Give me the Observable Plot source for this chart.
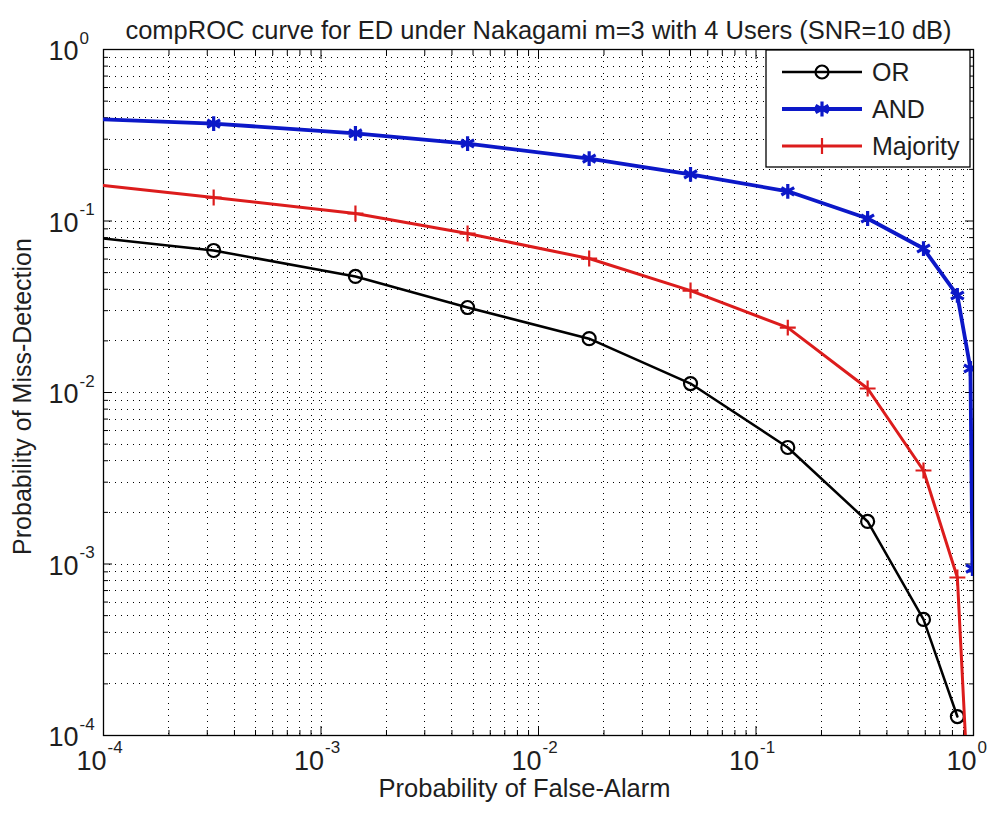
<!DOCTYPE html>
<html>
<head>
<meta charset="utf-8">
<script src="https://cdn.jsdelivr.net/npm/d3@7"></script>
<script src="https://cdn.jsdelivr.net/npm/@observablehq/plot@0.6"></script>
<style>
  body { margin: 0; background: #fff; }
  #chart { position: relative; width: 995px; height: 820px; font-family: "Liberation Sans", Arial, sans-serif; }
  #legend { position: absolute; left: 765px; top: 49px; }
</style>
</head>
<body>
<div id="chart"></div>
<script>
// Probability of false alarm (shared by all fusion rules)
const pf = [1e-4, 3.21e-4, 1.44e-3, 4.72e-3, 1.71e-2, 5.0e-2, 0.140, 0.326, 0.589, 0.843, 0.968, 0.989];

// Probability of miss-detection per fusion rule (null = not plotted)
const pmOR       = [0.0791, 0.0673, 0.0475, 0.0313, 0.0206, 0.01128, 0.00478, 0.00177, 4.75e-4, 1.29e-4, null, null];
const pmAND      = [0.391, 0.370, 0.324, 0.283, 0.231, 0.187, 0.149, 0.1034, 0.0691, 0.0368, 0.0138, 9.4e-4];
const pmMajority = [0.161, 0.137, 0.1106, 0.0845, 0.0604, 0.0393, 0.0239, 0.01055, 0.00351, 8.34e-4, 2.6e-5, null];

const seriesNames   = ["OR", "AND", "Majority"];
const seriesValues  = [pmOR, pmAND, pmMajority];
const seriesColors  = ["#000000", "#0c18c8", "#dc1c1c"];
const seriesSymbols = ["circle", "asterisk", "plus"];
const seriesWidths  = [2.5, 3.8, 3];
const seriesRadius  = [6.5, 7, 5.2];

const majorTicks = [1e-4, 1e-3, 1e-2, 1e-1, 1];
const tickExponents = ["-4", "-3", "-2", "-1", "0"];

const titleText = "compROC curve for ED under Nakagami m=3 with 4 Users (SNR=10 dB)";
const xLabel = "Probability of False-Alarm";
const yLabel = "Probability of Miss-Detection";

// log-decade minor ticks (2..9 within each decade) and full grid
const gridTicks = d3.scaleLog().domain([1e-4, 1]).ticks();
const minorTicks = gridTicks.filter(t => !majorTicks.some(m => Math.abs(m - t) / m < 1e-9));

const rows = seriesNames.map((name, s) =>
  pf.map((x, i) => ({x, y: seriesValues[s][i], series: name, i}))
    .filter(d => d.y != null));

const font = "Liberation Sans, Arial, sans-serif";
const textColor = "#1e1e1e";

const marks = [
  // dotted grid at major and minor positions
  Plot.ruleX(gridTicks, {stroke: "#000", strokeWidth: 1, strokeDasharray: "1,5", shapeRendering: "crispEdges"}),
  Plot.ruleY(gridTicks, {stroke: "#000", strokeWidth: 1, strokeDasharray: "1,5", shapeRendering: "crispEdges"}),
  // inward ticks on all four sides
  Plot.axisX({anchor: "bottom", ticks: majorTicks, tickSize: -9, tickFormat: () => "", label: null}),
  Plot.axisX({anchor: "bottom", ticks: minorTicks, tickSize: -5, tickFormat: () => "", label: null}),
  Plot.axisX({anchor: "top", ticks: majorTicks, tickSize: -9, tickFormat: () => "", label: null}),
  Plot.axisX({anchor: "top", ticks: minorTicks, tickSize: -5, tickFormat: () => "", label: null}),
  Plot.axisY({anchor: "left", ticks: majorTicks, tickSize: -9, tickFormat: () => "", label: null}),
  Plot.axisY({anchor: "left", ticks: minorTicks, tickSize: -5, tickFormat: () => "", label: null}),
  Plot.axisY({anchor: "right", ticks: majorTicks, tickSize: -9, tickFormat: () => "", label: null}),
  Plot.axisY({anchor: "right", ticks: minorTicks, tickSize: -5, tickFormat: () => "", label: null}),
  Plot.frame({stroke: "#000", strokeWidth: 1.3})
];

// curves and their markers (the first sample sits on the left edge, without a marker)
seriesNames.forEach((name, s) => {
  marks.push(Plot.line(rows[s], {x: "x", y: "y", stroke: seriesColors[s], strokeWidth: seriesWidths[s], clip: true}));
  marks.push(Plot.dot(rows[s].filter(d => d.i > 0), {
    x: "x", y: "y", symbol: () => seriesSymbols[s], r: seriesRadius[s],
    stroke: seriesColors[s], strokeWidth: s === 1 ? 3.2 : 2.2, fill: "none", clip: true
  }));
});

// tick labels: base "10" and raised exponent
marks.push(
  Plot.text(majorTicks, {x: d => d, text: () => "10", frameAnchor: "bottom", textAnchor: "end", dx: 3, dy: 34,
    fontSize: 27, fontFamily: font, fill: textColor, ariaLabel: "tick-base"}),
  Plot.text(majorTicks, {x: d => d, text: (d, i) => tickExponents[i], frameAnchor: "bottom", textAnchor: "start", dx: 4, dy: 17,
    fontSize: 17, fontFamily: font, fill: textColor, ariaLabel: "tick-exp"}),
  Plot.text(majorTicks, {y: d => d, text: () => "10", frameAnchor: "left", textAnchor: "end", dx: -25, dy: 2,
    fontSize: 27, fontFamily: font, fill: textColor, ariaLabel: "tick-base"}),
  Plot.text(majorTicks, {y: d => d, text: (d, i) => tickExponents[i], frameAnchor: "left", textAnchor: "start", dx: -24, dy: -11,
    fontSize: 17, fontFamily: font, fill: textColor, ariaLabel: "tick-exp"}),
  Plot.text([titleText], {text: d => d, frameAnchor: "top", textAnchor: "middle", dy: -29, fontSize: 25.5, fontFamily: font, fill: textColor}),
  Plot.text([xLabel], {text: d => d, frameAnchor: "bottom", textAnchor: "middle", dx: -14, dy: 61, fontSize: 25.5, fontFamily: font, fill: textColor}),
  Plot.text([yLabel], {text: d => d, frameAnchor: "left", textAnchor: "middle", dx: -81, dy: 4, rotate: -90,
    fontSize: 25, fontFamily: font, fill: textColor, ariaLabel: "y-label"})
);

const chart = Plot.plot({
  width: 995,
  height: 820,
  marginLeft: 103,
  marginRight: 22,
  marginTop: 49,
  marginBottom: 85,
  style: {background: "#fff", overflow: "visible"},
  x: {type: "log", domain: [1e-4, 1]},
  y: {type: "log", domain: [1e-4, 1]},
  marks
});

// narrow the tick-label glyphs horizontally
d3.select(chart).selectAll('g[aria-label="tick-base"] text, g[aria-label="tick-exp"] text')
  .attr("transform", function() { return (this.getAttribute("transform") || "") + " scale(0.75,1)"; });
// stretch the vertical axis label along its run
d3.select(chart).selectAll('g[aria-label="y-label"] text')
  .attr("transform", function() { return (this.getAttribute("transform") || "") + " scale(1.18,1)"; });

const host = document.getElementById("chart");
host.appendChild(chart);

// legend box inside the upper-right corner of the axes
const lg = d3.select(host).append("svg").attr("id", "legend").attr("width", 207).attr("height", 120);
lg.append("rect").attr("x", 1).attr("y", 1).attr("width", 204).attr("height", 117)
  .attr("fill", "#fff").attr("stroke", "#000").attr("stroke-width", 1.3);
const symbolTypes = {circle: d3.symbolCircle, asterisk: d3.symbolAsterisk, plus: d3.symbolPlus};
seriesNames.forEach((name, s) => {
  const cy = 23 + s * 37;
  lg.append("line").attr("x1", 17).attr("x2", 97).attr("y1", cy).attr("y2", cy)
    .attr("stroke", seriesColors[s]).attr("stroke-width", seriesWidths[s]);
  lg.append("path").attr("transform", `translate(57,${cy})`)
    .attr("d", d3.symbol(symbolTypes[seriesSymbols[s]], Math.PI * seriesRadius[s] ** 2)())
    .attr("fill", "none").attr("stroke", seriesColors[s]).attr("stroke-width", s === 1 ? 3.2 : 2.2);
  lg.append("text").attr("x", 107).attr("y", cy).attr("dy", "0.35em")
    .attr("font-family", font).attr("font-size", 25).attr("fill", textColor).text(name);
});
</script>
</body>
</html>
